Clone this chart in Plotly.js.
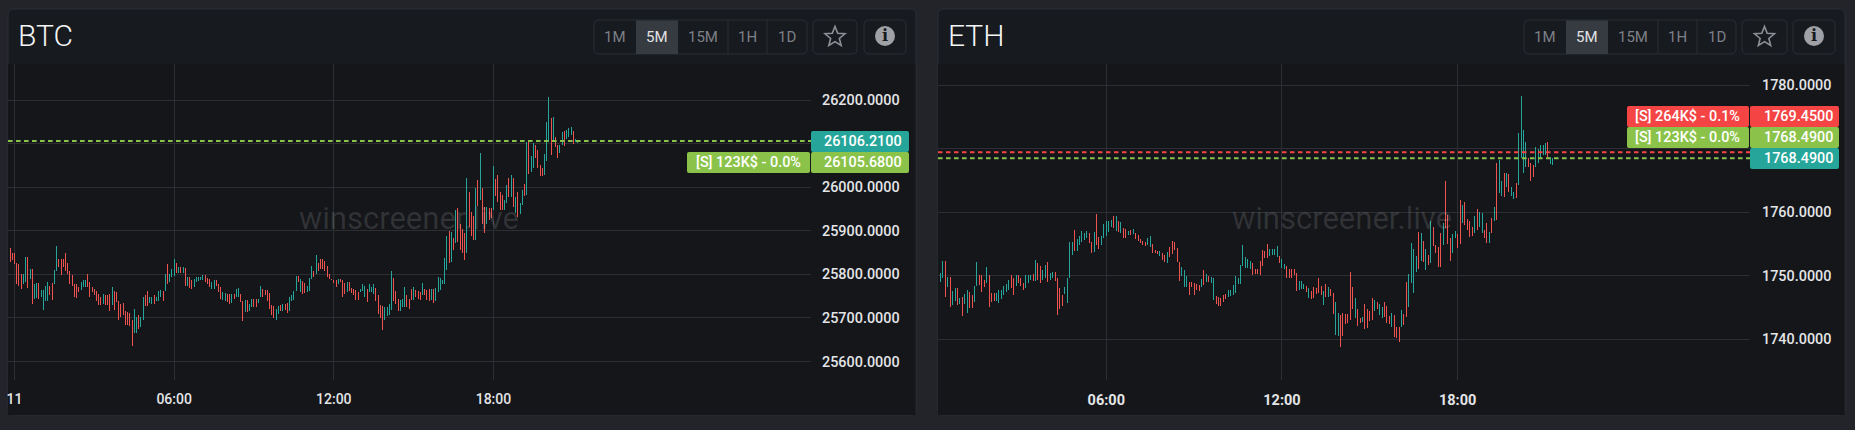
<!DOCTYPE html>
<html>
<head>
<meta charset="utf-8">
<script src="https://cdn.plot.ly/plotly-3.0.1.min.js"></script>
<style>html,body{margin:0;padding:0;background:#22242a;overflow:hidden}#c{width:1855px;height:430px}
.ohlc path{shape-rendering:crispEdges}</style>
</head>
<body>
<div id="c"></div>
<script>
// ---------- BTC 5-minute bars ----------
const btcHigh = [25860,25848,25850,25825,25823,25801,25801,25839,25839,25812,
25812,25777,25780,25780,25763,25764,25774,25782,25774,25780,
25810,25864,25835,25835,25835,25850,25827,25808,25798,25778,
25777,25770,25782,25786,25787,25801,25782,25770,25767,25761,
25755,25749,25755,25752,25752,25755,25770,25761,25759,25740,
25731,25734,25717,25714,25711,25695,25721,25702,25706,25702,
25749,25752,25761,25749,25748,25752,25749,25761,25763,25761,
25801,25823,25801,25812,25835,25825,25817,25817,25817,25814,
25793,25793,25786,25789,25793,25795,25795,25798,25798,25792,
25789,25782,25786,25787,25778,25770,25759,25757,25755,25755,
25755,25754,25767,25769,25755,25739,25742,25742,25733,25744,
25744,25744,25744,25773,25767,25764,25764,25757,25729,25727,
25721,25727,25729,25731,25731,25734,25749,25752,25761,25797,
25797,25789,25784,25780,25774,25792,25820,25808,25844,25825,
25835,25835,25831,25820,25801,25789,25788,25787,25789,25789,
25787,25780,25782,25782,25769,25767,25764,25759,25767,25777,
25774,25767,25777,25770,25778,25769,25752,25729,25727,25725,
25724,25731,25807,25792,25761,25744,25742,25744,25770,25752,
25744,25767,25770,25763,25761,25759,25780,25767,25763,25767,
25767,25767,25769,25793,25792,25786,
25838,25887,25900,25897,25884,25947,25952,25916,25903,25894,
26020,25990,25942,25934,25997,26016,26079,25997,25954,25954,
25952,25952,26048,26018,26028,25990,25982,25971,26005,26020,
26028,26020,25977,25990,25963,25994,26007,26103,26103,26071,
26101,26096,26085,26050,26043,26075,26149,26207,26159,26162,
26116,26096,26096,26126,26129,26132,26136,26139,26129,26111,26109];
const btcLow = [25829,25833,25823,25778,25774,25767,25778,25782,25769,25789,
25731,25744,25746,25744,25748,25719,25739,25739,25752,25742,
25777,25808,25816,25799,25816,25808,25801,25778,25774,25748,
25746,25759,25764,25772,25772,25770,25749,25759,25752,25739,
25729,25729,25731,25729,25729,25715,25729,25719,25736,25695,
25702,25706,25683,25683,25681,25636,25666,25666,25674,25680,
25695,25727,25727,25734,25731,25733,25739,25740,25748,25739,
25761,25778,25782,25793,25797,25802,25802,25802,25802,25774,
25774,25769,25767,25772,25782,25784,25786,25787,25782,25778,
25770,25767,25767,25774,25759,25744,25742,25739,25736,25733,
25734,25744,25748,25749,25736,25693,25714,25714,25716,25725,
25724,25724,25734,25748,25749,25752,25740,25721,25706,25699,
25695,25708,25716,25716,25719,25712,25717,25739,25742,25761,
25782,25759,25755,25757,25759,25761,25789,25793,25801,25807,
25812,25812,25807,25793,25789,25786,25780,25772,25778,25782,
25748,25755,25759,25761,25757,25752,25742,25742,25759,25761,
25748,25736,25759,25759,25755,25740,25708,25699,25672,25695,
25704,25706,25719,25740,25733,25716,25716,25725,25724,25725,
25721,25742,25742,25748,25744,25742,25752,25752,25742,25739,
25742,25734,25739,25759,25763,25778,
25778,25810,25825,25828,25856,25871,25874,25856,25850,25834,
25848,25909,25887,25878,25878,25957,25971,25916,25894,25916,
25925,25929,25947,25980,25967,25947,25947,25948,25963,25977,
25978,25954,25941,25931,25939,25959,25980,25982,26031,26035,
26043,26066,26043,26025,26025,26028,26060,26103,26073,26103,
26092,26066,26078,26096,26094,26111,26115,26119,26100,26103,26101];
const btcDirRows = ["rrrrrrggrg","rggrggggrr","ggrrrrrrrr","rrgggrrrrr","rrgrrrgrrr",
"rrrrrrggrg","grrggrgggr","grgggrgrgr","grrgggggrr","rggrrrggrr",
"grggrrgrgg","rrggrrrrrr","ggrgrrgggg","rgrrgggrgr","rrrrrrrrgr",
"rrgrrrrrgg","grgggrrrrg","gggrrrgggr","rrgrrrgrrr","grgggg",
"ggrgrgrrrr","grrrgrgrrg","rrgrrrrggr","grgrggrgrg","grrrrgggrg","rrggrgggrgg"];

// ---------- ETH 5-minute bars ----------
const ethHigh = [1749.95,1750.5,1752.4,1752.4,1749.8,1749.8,1747.6,1748.1,1748.0,1746.55,
1746.65,1747.2,1747.7,1747.45,1747.05,1748.4,1752.1,1750.05,1750.05,1749.4,
1751.45,1750.1,1747.3,1747.3,1747.25,1747.7,1747.7,1748.4,1748.65,1749.4,
1750.05,1749.7,1750.1,1750.1,1749.7,1748.9,1750.1,1750.2,1750.2,1750.3,
1752.5,1752.05,1751.5,1750.85,1751.7,1752.2,1750.5,1750.65,1750.65,1749.6,
1748.1,1746.9,1748.2,1749.7,
1755.25,1755.25,1757.25,1755.75,1756.2,1757.0,1756.7,1757.0,1756.7,1755.4,
1756.95,1759.75,1756.05,1756.3,1758.15,1758.7,1758.7,1758.8,1759.45,1759.45,
1758.55,1758.4,1757.5,1757.35,1757.1,1757.25,1757.35,1756.7,1756.45,1755.75,
1755.55,1755.4,1756.0,1756.2,1755.05,1754.1,1753.95,1753.95,1753.65,1753.3,
1753.8,1754.6,1755.55,1755.25,1754.35,1752.25,1751.45,1750.85,1750.0,1749.1,
1749.1,1748.85,1748.75,1748.6,1749.5,1750.85,1750.3,1750.0,1749.8,1749.65,
1746.8,1746.65,1746.55,1746.95,1747.2,1747.7,1747.7,1748.55,1749.95,1749.7,
1751.7,1754.85,1752.95,1752.6,1752.3,1752.05,1751.0,1751.0,1752.4,1754.0,
1753.9,1755.05,1754.15,1754.25,1754.25,1754.7,1753.1,1752.6,1751.8,1751.5,
1751.0,1751.0,1751.0,1750.5,1749.15,1749.15,1748.75,1748.4,1748.0,1747.6,
1748.2,1748.0,1749.6,1748.4,1747.6,1748.75,1748.2,1747.85,1747.3,1745.9,
1744.2,1743.9,1744.2,1744.0,1744.0,1750.65,1748.2,1746.45,1744.7,1743.4,
1743.5,1745.5,1744.7,1744.45,1746.45,1746.25,1745.9,1745.5,1745.05,1745.9,
1745.2,1743.65,
1744.1,1743.8,1741.9,1741.9,1744.6,1744.0,1749.05,1750.3,1755.1,1754.15,
1753.1,1756.95,1756.7,1755.55,1754.15,1753.25,1758.7,1757.65,1754.85,1754.5,
1756.7,1758.25,1764.95,1759.55,1755.9,1756.6,1757.1,1756.6,1761.95,1761.15,
1761.55,1758.9,1758.7,1757.65,1759.4,1760.45,1760.0,1759.85,1757.2,1758.25,
1756.85,1759.05,1760.9,1767.8,1768.2,1765.0,1766.25,1766.25,1766.05,1763.95,
1763.25,1764.55,1772.55,1778.3,1772.95,1771.1,1768.5,1767.7,1767.45,1770.35,
1769.9,1770.6,1770.6,1770.95,1771.1,1768.75,1768.5];
const ethLow = [1747.6,1749.0,1749.7,1746.65,1748.2,1745.05,1745.4,1746.1,1745.4,1745.6,
1743.65,1745.6,1744.1,1744.85,1744.85,1745.8,1748.45,1748.55,1747.4,1748.2,
1748.85,1745.05,1745.8,1746.1,1746.1,1745.7,1746.3,1747.05,1747.5,1747.7,
1748.1,1746.95,1748.4,1748.9,1748.4,1747.7,1748.0,1748.9,1749.4,1749.15,
1749.25,1749.4,1748.9,1749.4,1749.6,1749.05,1749.4,1749.7,1749.15,1743.8,
1744.7,1745.3,1747.15,1745.75,
1749.6,1753.3,1753.95,1753.95,1754.85,1755.4,1755.65,1755.9,1755.15,1753.55,
1753.8,1754.85,1754.25,1754.85,1755.9,1756.2,1756.95,1757.75,1757.5,1757.1,
1756.95,1756.7,1755.9,1755.9,1756.45,1756.45,1756.6,1755.75,1755.55,1755.15,
1754.85,1754.7,1754.85,1754.6,1753.55,1753.55,1753.45,1753.05,1752.5,1752.25,
1752.0,1752.95,1753.45,1754.1,1752.1,1749.25,1749.9,1748.3,1748.2,1747.0,
1748.2,1747.0,1747.7,1747.55,1748.2,1748.6,1749.1,1749.1,1748.85,1746.25,
1745.5,1745.2,1745.2,1745.9,1746.3,1746.65,1746.8,1747.05,1747.3,1748.65,
1748.75,1751.5,1751.25,1751.25,1751.0,1750.1,1750.3,1750.3,1750.1,1751.5,
1752.75,1752.85,1753.1,1753.25,1753.25,1752.95,1752.05,1751.25,1751.0,1749.7,
1749.7,1749.7,1750.1,1747.6,1747.7,1747.85,1747.85,1747.5,1746.45,1746.3,
1746.55,1747.15,1747.3,1747.05,1745.4,1746.65,1746.65,1746.8,1744.0,1740.65,
1740.5,1738.75,1740.5,1742.35,1742.6,1743.1,1744.7,1743.4,1742.05,1742.6,
1742.75,1741.55,1741.8,1742.85,1743.1,1744.45,1744.7,1743.9,1743.3,1743.5,
1742.6,1742.35,
1741.9,1740.3,1740.15,1739.65,1741.9,1742.25,1743.45,1745.05,1748.9,1747.35,
1750.65,1751.0,1752.4,1752.2,1750.9,1751.7,1752.05,1754.7,1753.65,1751.45,
1751.45,1754.85,1757.45,1755.0,1752.4,1753.55,1755.9,1754.3,1755.0,1758.35,
1758.0,1757.2,1756.05,1756.3,1756.7,1757.2,1757.65,1756.7,1755.9,1755.2,
1755.2,1756.7,1758.7,1758.8,1763.0,1762.55,1762.35,1764.05,1763.25,1762.55,
1762.1,1762.2,1764.3,1768.5,1766.25,1767.1,1767.1,1765.0,1765.5,1767.2,
1767.8,1768.5,1769.0,1769.0,1768.5,1767.6,1767.45];
const ethDirRows = [
"rggrgrggrg","rggrrggrrr","grrrgggggg","rrgrrrgggr","grrggrggrr","rrgg",
"ggrgggggrr","grrgggggrg","rgrrgrgrrr","rrggrrrgrr","grrrrrgggr","rrrrgrgrgg","rrrr",
"rggggggggg","grrrrrrrgg","ggrggrrrrr","gggrgrrrrr","grgrrggrrr","rrrgrrgrrr","rgrggrrrgr","rr",
"grrggggrgr","grgrrrrgrr","rggrrgrrrr","grggrrgrgr","ggrgrggrgg","ggrrrggggg","rggggrrg"
];
const btcPrices = {ask: 26105.68, last: 26106.21};
const ethPrices = {ask: 1769.45, bid: 1768.49, last: 1768.49};
const btcTicks = [25600,25700,25800,25900,26000,26100,26200];
const btcTickText = ["25600.0000","25700.0000","25800.0000","25900.0000","26000.0000","","26200.0000"];
const ethTicks = [1740,1750,1760,1770,1780];
const ethTickText = ["1740.0000","1750.0000","1760.0000","","1780.0000"];
const timeTickVals = ["2023-09-11 00:00","2023-09-11 06:00","2023-09-11 12:00","2023-09-11 18:00"];
const btcTimeText = ["11","06:00","12:00","18:00"];
const ethTimeText = ["","06:00","12:00","18:00"];
const frames = ["1M","5M","15M","1H","1D"];

// ---------- helpers ----------
const W=1855,H=430,C={up:"#26a69a",down:"#ef5350",green:"#8bc34a",red:"#f44444",teal:"#26a69a"};
const fx=p=>p/W, fy=p=>1-p/H;
function fit(dir,n){const d=dir.slice(0,n);while(d.length<n)d.push("g");return d;}
function ohlc(high,low,dirRows,t0,xa,ya){
  const d=fit(dirRows.join("").split(""),high.length),x=high.map((_,i)=>t0+i*300000);
  return {type:"ohlc",x,high,low,
    open:high.map((h,i)=>d[i]==="r"?h:low[i]),
    close:high.map((h,i)=>d[i]==="r"?low[i]:h),
    xaxis:xa,yaxis:ya,tickwidth:0,hoverinfo:"skip",
    increasing:{line:{color:C.up,width:1}},decreasing:{line:{color:C.down,width:1}}};
}
function rr(x0,y0,x1,y1,r,o){
  const X=fx,Y=fy;
  const path=`M ${X(x0+r)} ${Y(y0)} L ${X(x1-r)} ${Y(y0)} Q ${X(x1)} ${Y(y0)} ${X(x1)} ${Y(y0+r)} L ${X(x1)} ${Y(y1-r)} Q ${X(x1)} ${Y(y1)} ${X(x1-r)} ${Y(y1)} L ${X(x0+r)} ${Y(y1)} Q ${X(x0)} ${Y(y1)} ${X(x0)} ${Y(y1-r)} L ${X(x0)} ${Y(y0+r)} Q ${X(x0)} ${Y(y0)} ${X(x0+r)} ${Y(y0)} Z`;
  return Object.assign({type:"path",xref:"paper",yref:"paper",path,line:{width:0},layer:"below"},o||{});
}
function txt(text,x,y,size,color,anchor,extra){
  return Object.assign({text,x:fx(x),y:fy(y),xref:"paper",yref:"paper",showarrow:false,xanchor:anchor||"center",yanchor:"middle",
    borderpad:0,font:{family:"Roboto, sans-serif",size,color}},extra||{});
}
function star(cx,cy,R,r){
  let p="";for(let i=0;i<10;i++){const a=-Math.PI/2+i*Math.PI/5,q=i%2?r:R;
    p+=(i?"L ":"M ")+fx(cx+q*Math.cos(a))+" "+fy(cy+q*Math.sin(a))+" ";}
  return {type:"path",xref:"paper",yref:"paper",path:p+"Z",line:{color:"#8e9096",width:1.6},layer:"below"};
}
const shapes=[],ann=[];
function panel(p){
  shapes.push(rr(p.l,9,p.r,415,6,{fillcolor:"#171a1f",line:{color:"#2b2e35",width:1}}));
  shapes.push({type:"rect",xref:"paper",yref:"paper",x0:fx(p.l),x1:fx(p.r-0.5),y0:fy(415),y1:fy(64),fillcolor:"#14161a",line:{width:0},layer:"below"});
  ann.push(txt(p.title,p.l+9,36,30,"#f4f5f6","left",{font:{family:"Roboto, sans-serif",size:30,weight:300,color:"#f4f5f6"}}));
  shapes.push(rr(p.g0,20,p.g1,54,5,{fillcolor:"rgba(0,0,0,0)",line:{color:"#2b2e35",width:1}}));
  shapes.push({type:"rect",xref:"paper",yref:"paper",x0:fx(p.div[0]),x1:fx(p.div[1]),y0:fy(54),y1:fy(20.5),fillcolor:"#363a41",line:{width:0},layer:"below"});
  p.div.slice(2).forEach(d=>shapes.push({type:"line",xref:"paper",yref:"paper",x0:fx(d),x1:fx(d),y0:fy(20),y1:fy(54),line:{color:"#2b2e35",width:1},layer:"below"}));
  const edges=[p.g0,p.div[0],p.div[1],p.div[2],p.div[3],p.g1];
  frames.forEach((f,i)=>ann.push(txt(f,(edges[i]+edges[i+1])/2,36.5,15,i===1?"#e2e3e5":"#7d8087")));
  shapes.push(rr(p.s0,20,p.s1,54,5,{fillcolor:"rgba(0,0,0,0)",line:{color:"#2b2e35",width:1}}));
  shapes.push(rr(p.i0,20,p.i1,54,5,{fillcolor:"rgba(0,0,0,0)",line:{color:"#2b2e35",width:1}}));
  shapes.push(star((p.s0+p.s1)/2,37,10.5,4.6));
  const ic=(p.i0+p.i1)/2;
  shapes.push({type:"circle",xref:"paper",yref:"paper",x0:fx(ic-10),x1:fx(ic+10),y0:fy(46),y1:fy(26),fillcolor:"#9fa1a6",line:{width:0},layer:"below"});
  ann.push(txt("i",ic,36,16,"#171a1f","center",{font:{family:"DejaVu Serif, serif",size:16,weight:700,color:"#171a1f"}}));
  ann.push(txt("winscreener.live",p.wm,218,31,"rgba(255,255,255,0.12)"));
}
function tag(x0,x1,y0,color,text,tx,anchor){
  shapes.push(rr(x0,y0,x1,y0+21,2,{fillcolor:color,layer:"above"}));
  ann.push(txt(text,tx,y0+10.5,14.4,"#ffffff",anchor||"left",{font:{family:"Roboto, sans-serif",size:14.4,weight:500,color:"#fff"}}));
}
function level(v,ya,color,w){
  shapes.push({type:"line",xref:ya==="y"?"x domain":"x2 domain",yref:ya,x0:0,x1:1,y0:v,y1:v,line:{color,width:w,dash:"4.5px,3.5px"},layer:"above"});
}

panel({l:8,r:916,title:"BTC",g0:594,g1:807,div:[636,678,728,767],s0:813,s1:857,i0:864,i1:906,wm:409});
panel({l:938,r:1845,title:"ETH",g0:1524,g1:1736,div:[1566,1608,1658,1697],s0:1742,s1:1787,i0:1793,i1:1835,wm:1342});

level(btcPrices.last,"y",C.teal,1);
level(btcPrices.ask,"y",C.green,2);
level(ethPrices.last,"y2",C.teal,1);
level(ethPrices.bid,"y2",C.green,2);
level(ethPrices.ask,"y2",C.red,2);

tag(811,909,131,C.teal,btcPrices.last.toFixed(4),823);
tag(811,909,152,C.green,btcPrices.ask.toFixed(4),823);
tag(687,810,152,C.green,"[S] 123K$ - 0.0%",695);
tag(1750,1839,106,C.red,ethPrices.ask.toFixed(4),1763);
tag(1627,1749,106,C.red,"[S] 264K$ - 0.1%",1634);
tag(1750,1839,127,C.green,ethPrices.bid.toFixed(4),1763);
tag(1627,1749,127,C.green,"[S] 123K$ - 0.0%",1634);
tag(1750,1839,148,C.teal,ethPrices.last.toFixed(4),1763);

const t0BTC=Date.UTC(2023,8,10,23,50), t0ETH=Date.UTC(2023,8,11,0,15);
const grid="#2c2e34";
function xax(dom,range,text,size,weight){return {domain:dom,range,type:"date",tickmode:"array",tickvals:timeTickVals,ticktext:text,
  showgrid:true,gridcolor:grid,gridwidth:1,zeroline:false,showline:false,ticks:"",ticklen:0,ticklabelstandoff:9,
  rangeslider:{visible:false},fixedrange:true,tickfont:{family:"Roboto, sans-serif",size,weight,color:"#e4e5e7"}};}
function yax(dom,range,vals,text,anchor,st){return {domain:dom,range,anchor,side:"right",tickmode:"array",tickvals:vals,ticktext:text,
  showgrid:true,gridcolor:grid,gridwidth:1,zeroline:false,showline:false,ticks:"",ticklen:0,ticklabelstandoff:st,fixedrange:true,
  tickfont:{family:"Roboto, sans-serif",size:14.4,weight:500,color:"#e4e5e7"}};}
const layout={width:W,height:H,margin:{l:0,r:0,t:0,b:0,pad:0},paper_bgcolor:"#22242a",plot_bgcolor:"rgba(0,0,0,0)",showlegend:false,dragmode:false,
  font:{family:"Roboto, sans-serif"},
  xaxis:xax([fx(8),fx(811)],["2023-09-10 23:45:20","2023-09-12 05:56:00"],btcTimeText,14,500),
  yaxis:yax([fy(380),fy(64)],[25557.6,26282.6],btcTicks,btcTickText,"x",10),
  xaxis2:xax([fx(938),fx(1750)],["2023-09-11 00:15:10","2023-09-12 03:59:00"],ethTimeText,14.5,700),
  yaxis2:yax([fy(380),fy(64)],[1733.59,1783.35],ethTicks,ethTickText,"x2",11),
  shapes,annotations:ann};
layout.xaxis.anchor="y";layout.xaxis2.anchor="y2";
Plotly.newPlot("c",[
  ohlc(btcHigh,btcLow,btcDirRows,t0BTC,"x","y"),
  ohlc(ethHigh,ethLow,ethDirRows,t0ETH,"x2","y2")
],layout,{displayModeBar:false,staticPlot:true});
</script>
</body>
</html>
